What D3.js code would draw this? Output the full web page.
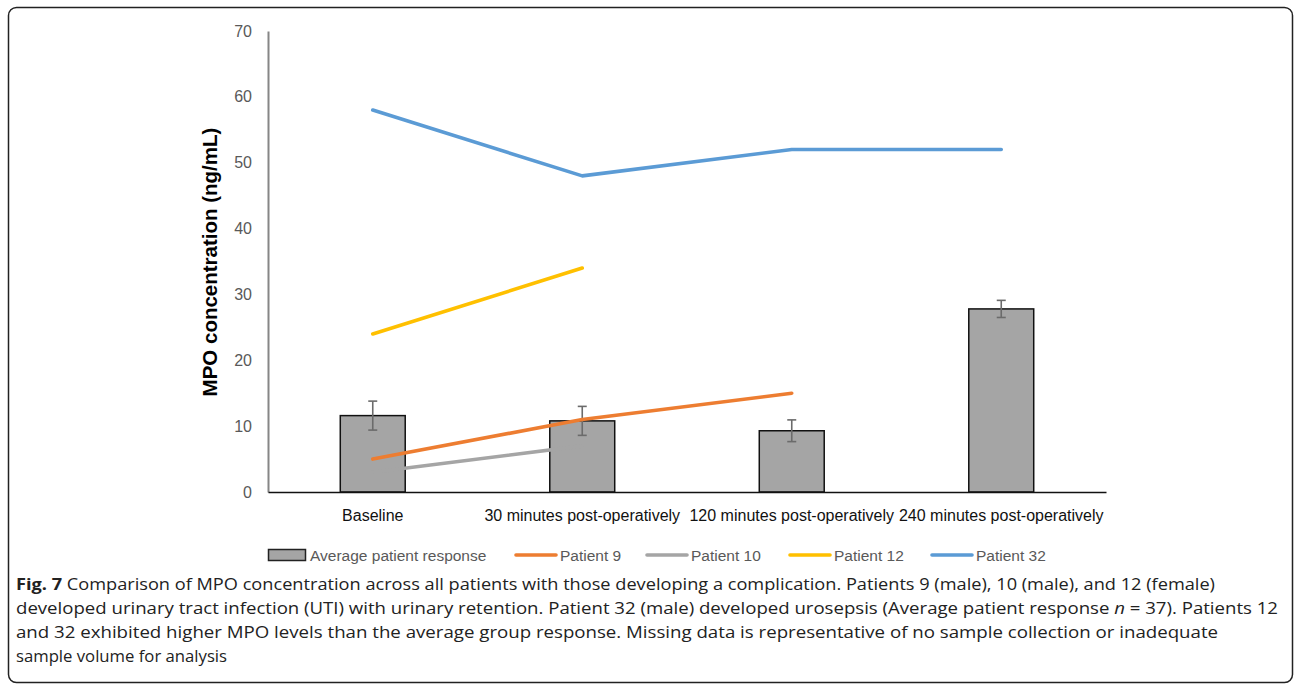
<!DOCTYPE html>
<html><head><meta charset="utf-8">
<script src="https://d3js.org/d3.v7.min.js"></script>
<style>
body{margin:0;background:#fff}
text{font-family:"Liberation Sans",Arial,sans-serif}
.cap{font-family:"Open Sans","Noto Sans",sans-serif}
</style>
</head><body>
<svg width=1295 height=687></svg>
<script>
// values
const categories = ["Baseline", "30 minutes post-operatively", "120 minutes post-operatively", "240 minutes post-operatively"];
const avgResponse = [11.6, 10.8, 9.3, 27.8];
const avgError = [2.2, 2.2, 1.65, 1.3];
const patient9 = [5, 11, 15, null];
const patient10 = [3, 7, null, null];
const patient12 = [24, 34, null, null];
const patient32 = [58, 48, 52, 52];
const yTicks = [0, 10, 20, 30, 40, 50, 60, 70];

const series = [
  {name: "Patient 9", values: patient9, color: "#ED7D31"},
  {name: "Patient 10", values: patient10, color: "#A5A5A5"},
  {name: "Patient 12", values: patient12, color: "#FFC000"},
  {name: "Patient 32", values: patient32, color: "#5B9BD5"}
];

const captionLines = [
  {bold: "Fig. 7", text: " Comparison of MPO concentration across all patients with those developing a complication. Patients 9 (male), 10 (male), and 12 (female)", w: 1199},
  {text: "developed urinary tract infection (UTI) with urinary retention. Patient 32 (male) developed urosepsis (Average patient response ", it: "n", rest: " = 37). Patients 12", w: 1262},
  {text: "and 32 exhibited higher MPO levels than the average group response. Missing data is representative of no sample collection or inadequate", w: 1202},
  {text: "sample volume for analysis", w: 211}
];

const svg = d3.select("svg");

// frame
svg.append("rect").attr("x", 8.5).attr("y", 7.5).attr("width", 1284).attr("height", 675)
  .attr("rx", 8).attr("fill", "none").attr("stroke", "#222").attr("stroke-width", 1.5);

const x = d3.scaleBand().domain(categories).range([268, 1106]).padding(0);
const y = d3.scaleLinear().domain([0, 70]).range([492, 31]);
const cx = d => x(d) + x.bandwidth() / 2;
const barW = x.bandwidth() * 0.31;

// y axis
const ya = svg.append("g").attr("transform", "translate(268,0)")
  .call(d3.axisLeft(y).tickValues(yTicks).tickSize(0).tickPadding(16));
ya.select(".domain").attr("stroke", "#868686").attr("stroke-width", 2);
ya.selectAll("text").attr("font-size", 16).attr("fill", "#595959")
  .style("font-family", "'Liberation Sans',Arial,sans-serif");

svg.append("text").attr("transform", "translate(217,262) rotate(-90)")
  .attr("text-anchor", "middle").attr("font-size", 20.5).attr("font-weight", "bold")
  .text("MPO concentration (ng/mL)");

// bars
svg.append("g").selectAll("rect").data(categories).enter().append("rect")
  .attr("x", d => cx(d) - barW / 2)
  .attr("y", (d, i) => y(avgResponse[i]))
  .attr("width", barW)
  .attr("height", (d, i) => y(0) - y(avgResponse[i]))
  .attr("fill", "#A5A5A5").attr("stroke", "#111").attr("stroke-width", 1.5);

// error bars
const eb = svg.append("g").attr("stroke", "#6b6b6b").attr("stroke-width", 1.6);
categories.forEach((c, i) => {
  const hi = y(avgResponse[i] + avgError[i]), lo = y(avgResponse[i] - avgError[i]);
  eb.append("line").attr("x1", cx(c)).attr("x2", cx(c)).attr("y1", hi).attr("y2", lo);
  eb.append("line").attr("x1", cx(c) - 4.5).attr("x2", cx(c) + 4.5).attr("y1", hi).attr("y2", hi);
  eb.append("line").attr("x1", cx(c) - 4.5).attr("x2", cx(c) + 4.5).attr("y1", lo).attr("y2", lo);
});

// x axis
const xa = svg.append("g").attr("transform", "translate(0,492)")
  .call(d3.axisBottom(x).tickSize(0).tickPadding(18));
xa.select(".domain").attr("stroke", "#111").attr("stroke-width", 1.5);
xa.selectAll("text").attr("font-size", 16).attr("fill", "#111")
  .style("font-family", "'Liberation Sans',Arial,sans-serif");

// patient lines
const line = d3.line().defined(d => d.v != null).x(d => cx(d.c)).y(d => y(d.v));
series.forEach(s => {
  svg.append("path").datum(categories.map((c, i) => ({c: c, v: s.values[i]})))
    .attr("d", line).attr("fill", "none").attr("stroke", s.color)
    .attr("stroke-width", 3.6).attr("stroke-linecap", "round").attr("stroke-linejoin", "round");
});

// legend
const lg = svg.append("g").attr("font-size", 15.5).attr("fill", "#595959");
lg.append("rect").attr("x", 268.5).attr("y", 549.5).attr("width", 37).attr("height", 11)
  .attr("fill", "#A5A5A5").attr("stroke", "#222").attr("stroke-width", 1.5);
lg.append("text").attr("x", 310).attr("y", 560.5).text("Average patient response");
const lx = [516, 647, 790, 932];
series.forEach((s, i) => {
  lg.append("line").attr("x1", lx[i]).attr("x2", lx[i] + 40).attr("y1", 555).attr("y2", 555)
    .attr("stroke", s.color).attr("stroke-width", 3.6).attr("stroke-linecap", "round");
  lg.append("text").attr("x", lx[i] + 44).attr("y", 560.5).text(s.name);
});

// caption
captionLines.forEach((l, i) => {
  const t = svg.append("text").attr("class", "cap").attr("x", 16).attr("y", 590 + i * 24)
    .attr("font-size", 16).attr("fill", "#222")
    .attr("textLength", l.w).attr("lengthAdjust", "spacingAndGlyphs");
  if (l.bold) t.append("tspan").attr("font-weight", "bold").text(l.bold);
  t.append("tspan").text(l.text);
  if (l.it) {
    t.append("tspan").attr("font-style", "italic").text(l.it);
    t.append("tspan").text(l.rest);
  }
});
</script>
</body></html>
